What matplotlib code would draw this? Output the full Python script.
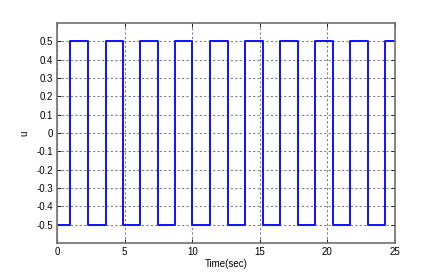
import numpy as np
import matplotlib
matplotlib.use("Agg")
import matplotlib.pyplot as plt

# switching times (sec) and the level held after each switch
switch_times = [0, 0.95, 2.28, 3.59, 4.90, 6.11, 7.50, 8.73, 10.01, 11.30,
                12.68, 13.87, 15.20, 16.48, 17.81, 19.07, 20.39, 21.69,
                23.00, 24.24]
levels = [-0.5, 0.5, -0.5, 0.5, -0.5, 0.5, -0.5, 0.5, -0.5, 0.5,
          -0.5, 0.5, -0.5, 0.5, -0.5, 0.5, -0.5, 0.5, -0.5, 0.5]
t_end = 25

x_ticks = [0, 5, 10, 15, 20, 25]
y_ticks = [-0.5, -0.4, -0.3, -0.2, -0.1, 0, 0.1, 0.2, 0.3, 0.4, 0.5]
y_labels = ["-0.5", "-0.4", "-0.3", "-0.2", "-0.1", "0",
            "0.1", "0.2", "0.3", "0.4", "0.5"]

plt.rcParams['font.family'] = ['Liberation Sans', 'DejaVu Sans']

fig = plt.figure(figsize=(4.36, 2.73), dpi=100)
ax = fig.add_axes([0.1307, 0.11, 0.7753, 0.8058])

t = list(switch_times) + [t_end]
u = list(levels) + [levels[-1]]
ax.step(t, u, where='post', color='#1010ff', linewidth=1.4)

ax.set_xlim(0, 25)
ax.set_ylim(-0.6, 0.6)
ax.set_xticks(x_ticks)
ax.set_yticks(y_ticks)
ax.set_yticklabels(y_labels)
ax.tick_params(direction='in', length=3, labelsize=7, top=True, right=True,
               color='#222222', width=0.7, pad=3)
ax.grid(True, linestyle=(0, (2, 2)), color='#808080', linewidth=0.8)
for s in ax.spines.values():
    s.set_color('#707070')
    s.set_linewidth(1.2)

ax.set_xlabel("Time(sec)", fontsize=7, labelpad=1)
ax.set_ylabel("u", fontsize=7, labelpad=5)

fig.savefig("out.png", dpi=100)
